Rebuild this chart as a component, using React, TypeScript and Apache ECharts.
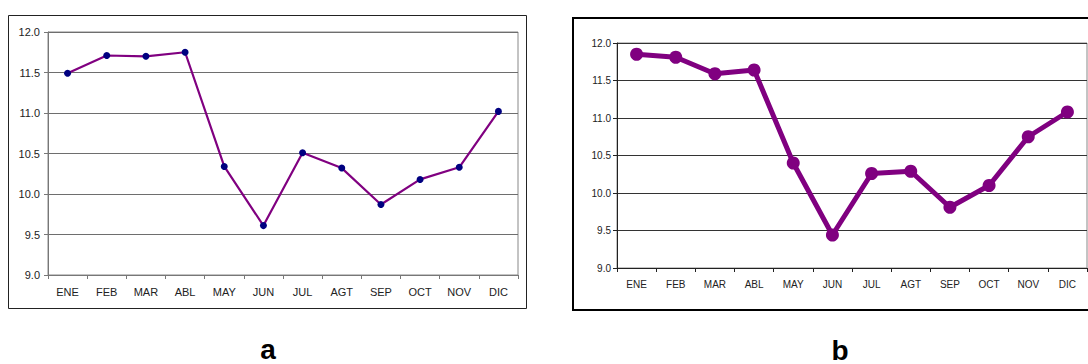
import React, { useEffect, useRef } from "react";
import * as echarts from "echarts";

const months = ["ENE", "FEB", "MAR", "ABL", "MAY", "JUN", "JUL", "AGT", "SEP", "OCT", "NOV", "DIC"];
const seriesA = [11.49, 11.71, 11.70, 11.75, 10.34, 9.61, 10.51, 10.32, 9.87, 10.18, 10.33, 11.02];
const seriesB = [11.85, 11.81, 11.59, 11.64, 10.40, 9.44, 10.26, 10.29, 9.81, 10.10, 10.75, 11.08];
const yMin = 9.0;
const yMax = 12.0;
const yStep = 0.5;
const panelLabels = ["a", "b"];

const FONT = "'Liberation Sans', Arial, sans-serif";

export default function App() {
  const ref = useRef<HTMLDivElement>(null);
  useEffect(() => {
    if (!ref.current) return;
    const chart = echarts.init(ref.current, null, { renderer: "svg" });
    const mkX = (gi: number, fs: number, col: string) => ({
      type: "category",
      gridIndex: gi,
      data: months,
      boundaryGap: true,
      axisLine: { show: true, lineStyle: { color: col, width: 1 } },
      axisTick: { show: true, alignWithLabel: false, length: 4, lineStyle: { color: col } },
      axisLabel: { fontSize: fs, color: "#222", fontFamily: FONT, margin: 11, interval: 0 },
      splitLine: { show: false },
    });
    const mkY = (gi: number, fs: number, col: string, gridCol: string, margin: number) => ({
      type: "value",
      gridIndex: gi,
      min: yMin,
      max: yMax,
      interval: yStep,
      axisLine: { show: true, lineStyle: { color: col, width: 1 } },
      axisTick: { show: true, length: 4, lineStyle: { color: col } },
      axisLabel: {
        fontSize: fs,
        color: "#222",
        fontFamily: FONT,
        margin,
        formatter: (v: number) => v.toFixed(1),
      },
      splitLine: { show: true, lineStyle: { color: gridCol, width: 1.2 } },
    });
    chart.setOption({
      animation: false,
      backgroundColor: "#fff",
      grid: [
        { left: 48, top: 32, width: 470, height: 243, show: true, borderColor: "#888", borderWidth: 1 },
        { left: 617, top: 43, width: 470, height: 225, show: true, borderColor: "#888", borderWidth: 1 },
      ],
      xAxis: [mkX(0, 11, "#777"), mkX(1, 10, "#222")],
      yAxis: [mkY(0, 11, "#777", "#6e6e6e", 8), mkY(1, 10, "#222", "#333", 6)],
      series: [
        {
          type: "line",
          xAxisIndex: 0,
          yAxisIndex: 0,
          data: seriesA,
          symbol: "circle",
          symbolSize: 7,
          lineStyle: { color: "#800080", width: 2.2 },
          itemStyle: { color: "#000080" },
        },
        {
          type: "line",
          xAxisIndex: 1,
          yAxisIndex: 1,
          data: seriesB,
          symbol: "circle",
          symbolSize: 13,
          lineStyle: { color: "#800080", width: 5 },
          itemStyle: { color: "#800080" },
        },
      ],
      graphic: [
        {
          type: "rect",
          shape: { x: 8.5, y: 15.5, width: 518, height: 293 },
          style: { fill: "none", stroke: "#222", lineWidth: 1 },
          silent: true,
        },
        {
          type: "rect",
          shape: { x: 573, y: 18, width: 520, height: 292 },
          style: { fill: "none", stroke: "#000", lineWidth: 2 },
          silent: true,
        },
        {
          type: "text",
          x: 268,
          y: 349,
          style: {
            text: panelLabels[0],
            font: `bold 28px ${FONT}`,
            fill: "#000",
            align: "center",
            verticalAlign: "middle",
          },
        },
        {
          type: "text",
          x: 840,
          y: 364,
          style: {
            text: panelLabels[1],
            font: `bold 28px ${FONT}`,
            fill: "#000",
            align: "center",
            verticalAlign: "bottom",
          },
        },
      ],
    });
    return () => chart.dispose();
  }, []);
  return (
    <div
      ref={ref}
      style={{ position: "absolute", left: 0, top: 0, width: 1088, height: 364 }}
    />
  );
}
